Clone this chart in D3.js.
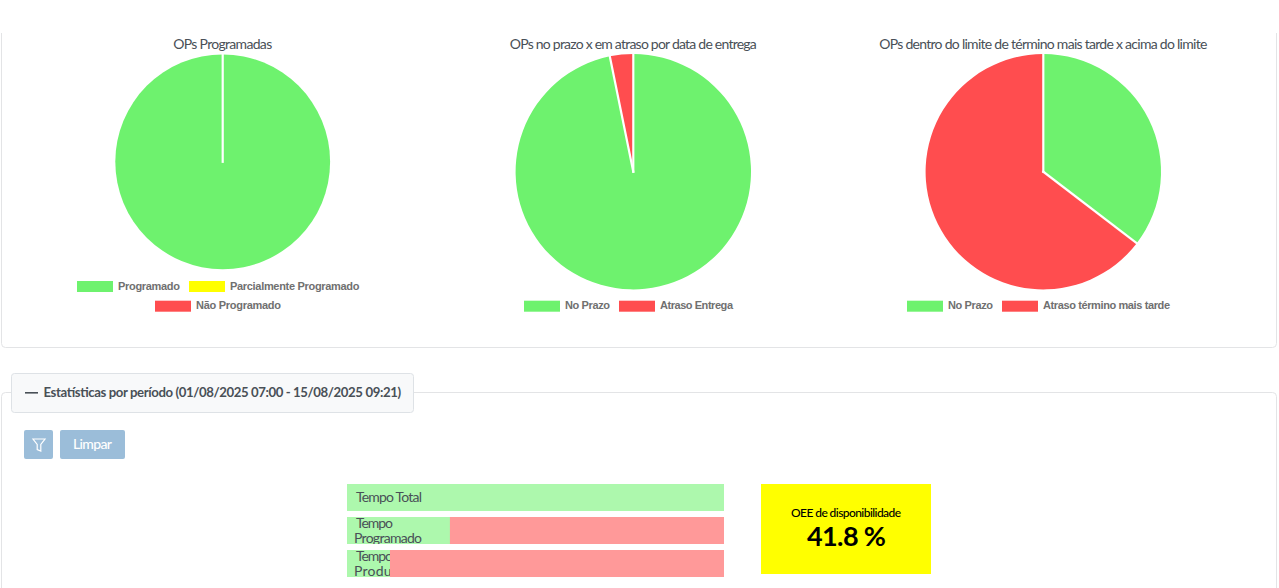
<!DOCTYPE html>
<html><head><meta charset="utf-8">
<script src="https://cdn.jsdelivr.net/npm/d3@7"></script>
<style>html,body{margin:0;padding:0;background:#fff;overflow:hidden}svg{display:block}</style>
</head><body><svg id="c" width="1279" height="588"></svg>
<script>
const GREEN="#6ef26e",RED="#ff4d4f",YELLOW="#ffff00";
const pie1Labels=["Programado","Parcialmente Programado","Não Programado"];
const pie1Values=[100,0,0];
const pie1Colors=[GREEN,YELLOW,RED];
const pie2Labels=["No Prazo","Atraso Entrega"];
const pie2Values=[96.8,3.2];
const pie3Labels=["No Prazo","Atraso término mais tarde"];
const pie3Values=[35.4,64.6];
const twoColors=[GREEN,RED];
const barLabels=[["Tempo Total"],["Tempo","Programado"],["Tempo","Produção"]];
const barDone=[100,27.3,11.4];
const oeeTitle="OEE de disponibilidade";
const oeeValue="41.8 %";

const svg=d3.select("#c");
const LATO="Lato, 'Open Sans', sans-serif";
const fit=(s,w)=>s.attr("textLength",w).attr("lengthAdjust","spacing");

// panels
svg.append("path").attr("d","M1.5 33V343.5a4 4 0 0 0 4 4H1272.5a4 4 0 0 0 4-4V33")
  .attr("fill","none").attr("stroke","#e3e4e6");
svg.append("rect").attr("x",1.5).attr("y",392.5).attr("width",1275).attr("height",230).attr("rx",4)
  .attr("fill","none").attr("stroke","#e3e4e6");
svg.append("rect").attr("x",11.5).attr("y",373.5).attr("width",402).attr("height",39).attr("rx",3)
  .attr("fill","#f8f9fa").attr("stroke","#dee2e6");
svg.append("rect").attr("x",25).attr("y",392).attr("width",13).attr("height",1.6).attr("fill","#495057");
fit(svg.append("text").attr("x",43.5).attr("y",397).attr("font-family",LATO).attr("font-size",13.2)
  .attr("font-weight",700).attr("fill","#495057").text("Estatísticas por período (01/08/2025 07:00 - 15/08/2025 09:21)"),357.5);

// buttons
svg.append("rect").attr("x",24).attr("y",430).attr("width",29).attr("height",29).attr("rx",2).attr("fill","#9bbdd9");
svg.append("path").attr("d","M33 439H45L40.8 444.5V451L37.2 449.5V444.5Z").attr("fill","none").attr("stroke","#fff").attr("stroke-width",1.2);
svg.append("rect").attr("x",60).attr("y",430).attr("width",65).attr("height",29).attr("rx",2).attr("fill","#9bbdd9");
fit(svg.append("text").attr("x",73).attr("y",449).attr("font-family",LATO)
  .attr("font-size",14).attr("font-weight",500).attr("fill","#fff").text("Limpar"),39);

// pies
function drawPie(o){
  const g=svg.append("g");
  fit(g.append("text").attr("x",o.cx-o.titleW/2).attr("y",49).attr("font-family",LATO)
    .attr("font-size",14).attr("fill","#495057").text(o.title),o.titleW);
  const arcs=d3.pie().sort(null)(o.values);
  const arc=d3.arc().innerRadius(0).outerRadius(o.r);
  g.selectAll("path.s").data(arcs).join("path").attr("class","s")
    .attr("transform",`translate(${o.cx},${o.cy})`)
    .attr("d",arc).attr("fill",(d,i)=>o.colors[i]);
  const ang=arcs.filter(d=>d.value>0).map(d=>d.startAngle);
  g.selectAll("line.b").data(ang).join("line").attr("class","b")
    .attr("x1",o.cx).attr("y1",o.cy)
    .attr("x2",d=>o.cx+o.r*Math.sin(d)).attr("y2",d=>o.cy-o.r*Math.cos(d))
    .attr("stroke","#fff").attr("stroke-width",2.2).attr("stroke-linecap","square");
  o.legend.forEach((row)=>{
    row.items.forEach(it=>{
      g.append("rect").attr("x",it.x).attr("y",row.y).attr("width",36).attr("height",11).attr("fill",o.colors[it.i]);
      fit(g.append("text").attr("x",it.x+41).attr("y",row.y+8.7).attr("font-family","'Liberation Sans',Arial,sans-serif")
        .attr("font-size",11).attr("font-weight",700).attr("fill","#707070").text(o.labels[it.i]),it.w);
    });
  });
}
drawPie({title:"OPs Programadas",titleW:99,cx:222.7,cy:161.8,r:107.4,values:pie1Values,colors:pie1Colors,labels:pie1Labels,
  legend:[{y:281,items:[{i:0,x:77,w:62},{i:1,x:189,w:129.5}]},{y:300.7,items:[{i:2,x:155,w:85}]}]});
drawPie({title:"OPs no prazo x em atraso por data de entrega",titleW:247,cx:633.3,cy:171.7,r:117.7,values:pie2Values,colors:twoColors,labels:pie2Labels,
  legend:[{y:300.7,items:[{i:0,x:524,w:45},{i:1,x:619,w:73}]}]});
drawPie({title:"OPs dentro do limite de término mais tarde x acima do limite",titleW:328,cx:1043.3,cy:171.7,r:117.7,values:pie3Values,colors:twoColors,labels:pie3Labels,
  legend:[{y:300.7,items:[{i:0,x:907,w:45},{i:1,x:1002,w:127}]}]});

// bars
const x=d3.scaleLinear().domain([0,100]).range([347,724]);
const y=d3.scaleBand().domain(d3.range(barDone.length)).range([484,577]).paddingInner(6/33).paddingOuter(0);
const barLabelW=[[66],[37,68],[37,60]];
const rows=svg.append("g").selectAll("g").data(barDone).join("g").attr("transform",(d,i)=>`translate(0,${y(i)})`);
rows.append("rect").attr("x",x(0)).attr("width",x(100)-x(0)).attr("height",y.bandwidth()).attr("fill","#adf8ad");
rows.each(function(d,i){
  const lines=barLabels[i], r=d3.select(this);
  const cid="clip"+i;
  r.append("clipPath").attr("id",cid).append("rect").attr("x",x(0)).attr("y",0).attr("width",x(100)-x(0)).attr("height",y.bandwidth());
  const t=r.append("g").attr("clip-path",`url(#${cid})`);
  const put=(k,tx,ty)=>fit(t.append("text").attr("x",tx).attr("y",ty).attr("font-family",LATO)
    .attr("font-size",14).attr("fill","#495057").text(lines[k]),barLabelW[i][k]);
  if(lines.length===1){ put(0,356,18); }
  else{ put(0,356,11); put(1,354,26); }
});
rows.append("rect").attr("x",d=>x(d)).attr("width",d=>x(100)-x(d)).attr("height",y.bandwidth()).attr("fill","#ff9999");

// OEE card
svg.append("rect").attr("x",761).attr("y",484).attr("width",170).attr("height",90).attr("fill","#ffff00");
fit(svg.append("text").attr("x",791).attr("y",517).attr("font-family",LATO)
  .attr("font-size",12).attr("font-weight",500).attr("fill","#000").text(oeeTitle),110);
fit(svg.append("text").attr("x",807).attr("y",546).attr("font-family",LATO)
  .attr("font-size",27).attr("font-weight",700).attr("fill","#000").text(oeeValue),79);
</script></body></html>
